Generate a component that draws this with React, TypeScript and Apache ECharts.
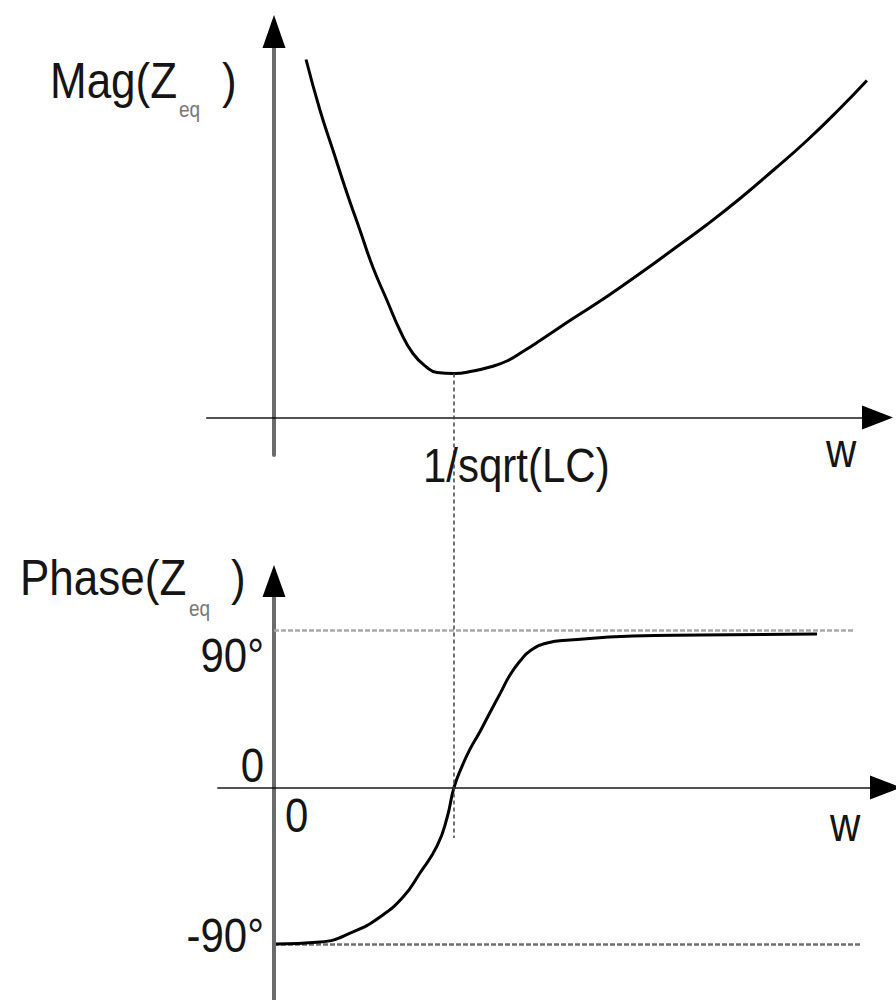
import React, { useEffect, useRef } from 'react';
import * as echarts from 'echarts';

// ---- data (w normalised so that 1/sqrt(LC) = 1) ----
const magW = [0.178, 0.256, 0.328, 0.406, 0.478, 0.55, 0.628, 0.7, 0.772, 0.85, 0.906, 1.0, 1.106, 1.2, 1.294, 1.383, 1.478, 1.661, 1.85, 2.033, 2.217, 2.406, 2.589, 2.772, 2.961, 3.144, 3.294];
const magValues = [3.58, 3.07, 2.67, 2.24, 1.87, 1.5, 1.17, 0.87, 0.64, 0.5, 0.45, 0.44, 0.465, 0.505, 0.565, 0.66, 0.77, 0.99, 1.21, 1.44, 1.68, 1.93, 2.19, 2.47, 2.77, 3.09, 3.37];

const phaseW = [0.011, 0.256, 0.439, 0.589, 0.717, 0.811, 0.906, 0.961, 1.0, 1.044, 1.089, 1.144, 1.2, 1.256, 1.311, 1.367, 1.422, 1.517, 1.644, 1.994, 2.367, 3.017];
const phaseValues = [-89.7, -88.6, -82.8, -74.2, -62.8, -49.0, -33.5, -17.5, 0, 12.0, 22.0, 32.0, 43.0, 53.8, 64.5, 72.5, 78.3, 82.8, 84.5, 86.8, 87.4, 88.0];

const phaseTickValues = [90, 0, -90];
const phaseTickLabels = ['90°', '0', '-90°'];
const refLevels = [90, -90];
const refLevelEnds = [3.228, 3.267];
const refLevelColors = ['#a8a8a8', '#707070'];

const resonanceW = 1;
const resonanceMag = 0.44;
const dashBottomPhase = -29;
const resonanceLabel = '1/sqrt(LC)';
const axisVarLabel = 'w';
const originLabel = '0';
const magTitle = ['Mag(Z', 'eq', ')'];
const phaseTitle = ['Phase(Z', 'eq', ')'];

// ---- layout ----
const FONT = '"Liberation Sans", Arial, Helvetica, sans-serif';
const SY = 1.15;
const TEXT = '#151515';
const tickLabelDy = [24.5, -22.5, -9.5];

export default function App() {
  const ref = useRef<HTMLDivElement>(null);

  useEffect(() => {
    const el = ref.current;
    if (!el) return;
    const chart = echarts.init(el, null, { renderer: 'svg' });

    const hiddenBits = {
      axisTick: { show: false },
      axisLabel: { show: false },
      splitLine: { show: false },
    };
    // black colour so the arrow heads are black; opacity makes the line itself grey
    const xLine = (arrow: number[]) => ({
      show: true, onZero: true, symbol: ['none', 'triangle'], symbolSize: arrow,
      lineStyle: { color: '#000', opacity: 0.68, width: 2 },
    });
    const yLine = (arrow: number[]) => ({
      show: true, onZero: true, symbol: ['none', 'triangle'], symbolSize: arrow,
      lineStyle: { color: '#000', opacity: 0.58, width: 4 },
    });

    const option: any = {
      animation: false,
      backgroundColor: '#ffffff',
      grid: [
        { left: 207, top: 31.5, width: 670.5, height: 423.5, containLabel: false, outerBoundsMode: 'none', show: false },
        { left: 218, top: 581, width: 667.5, height: 419, containLabel: false, outerBoundsMode: 'none', show: false },
      ],
      xAxis: [
        { type: 'value', gridIndex: 0, min: -0.37222, max: 3.35278, axisLine: xLine([24, 31]), ...hiddenBits },
        { type: 'value', gridIndex: 1, min: -0.31111, max: 3.39722, axisLine: xLine([24, 31]), ...hiddenBits },
      ],
      yAxis: [
        { type: 'value', gridIndex: 0, min: -0.375, max: 3.86, axisLine: yLine([23, 33]), ...hiddenBits },
        { type: 'value', gridIndex: 1, min: -121.82, max: 118.38, axisLine: yLine([23, 32]), ...hiddenBits },
      ],
      series: [
        {
          type: 'line',
          name: 'Mag',
          xAxisIndex: 0,
          yAxisIndex: 0,
          data: magW.map((w, i) => [w, magValues[i]]),
          smooth: 0.5,
          showSymbol: false,
          symbol: 'none',
          lineStyle: { color: '#000', width: 3 },
          z: 5,
        },
        {
          type: 'line',
          name: 'Phase',
          xAxisIndex: 1,
          yAxisIndex: 1,
          data: phaseW.map((w, i) => [w, phaseValues[i]]),
          smooth: 0.5,
          showSymbol: false,
          symbol: 'none',
          lineStyle: { color: '#000', width: 3 },
          z: 5,
          markLine: {
            silent: true,
            symbol: ['none', 'none'],
            label: { show: false },
            lineStyle: { type: [5, 2], width: 2.5 },
            data: refLevels.map((lv, i) => [
              { coord: [0, lv], lineStyle: { color: refLevelColors[i], type: [5, 2], width: 2.5 } },
              { coord: [refLevelEnds[i], lv] },
            ]),
          },
        },
      ],
    };

    chart.setOption(option);

    const px = (g: number, pt: number[]) => chart.convertToPixel({ gridIndex: g } as any, pt) as number[];

    const top = px(0, [resonanceW, resonanceMag]);
    const bot = px(1, [resonanceW, dashBottomPhase]);
    const origin0 = px(0, [0, 0]);
    const origin1 = px(1, [0, 0]);

    const txt = (text: string, x: number, y: number, size: number, align: string, fill = TEXT) => ({
      type: 'text',
      x,
      y,
      scaleY: SY,
      z: 20,
      silent: true,
      style: { text, fontSize: size, fontFamily: FONT, fill, align, verticalAlign: 'middle' },
    });

    const graphics: any[] = [
      {
        type: 'line',
        z: 15,
        silent: true,
        shape: { x1: top[0], y1: top[1], x2: bot[0], y2: bot[1] },
        style: { stroke: '#444', lineWidth: 1.5, lineDash: [4, 3] },
      },
      txt(magTitle[0], 50, 80, 44, 'left'),
      txt(magTitle[1], 179, 109, 19, 'left', '#777'),
      txt(magTitle[2], 222, 80, 44, 'left'),
      txt(phaseTitle[0], 20, 577, 44, 'left'),
      txt(phaseTitle[1], 189, 608, 19, 'left', '#777'),
      txt(phaseTitle[2], 231, 577, 44, 'left'),
      txt(resonanceLabel, top[0] - 31, origin0[1] + 47.5, 42, 'left'),
      txt(axisVarLabel, 826, origin0[1] + 32.5, 42, 'left'),
      txt(axisVarLabel, 830, origin1[1] + 36.5, 42, 'left'),
      txt(originLabel, origin1[0] + 11, origin1[1] + 27.5, 42, 'left'),
    ];

    phaseTickValues.forEach((v, i) => {
      const p = px(1, [0, v]);
      graphics.push(txt(phaseTickLabels[i], p[0] - 10, p[1] + tickLabelDy[i], 42, 'right'));
    });

    chart.setOption({ graphic: graphics });

    return () => {
      chart.dispose();
    };
  }, []);

  return (
    <div
      ref={ref}
      style={{ position: 'absolute', left: 0, top: 0, width: 896, height: 1000, background: '#fff' }}
    />
  );
}
